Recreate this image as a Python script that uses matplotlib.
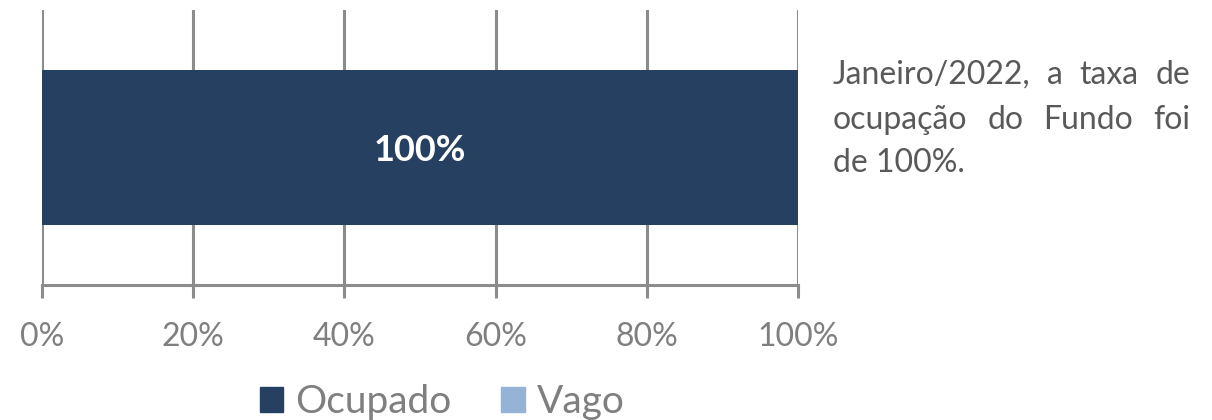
import matplotlib
matplotlib.use("Agg")
import matplotlib.pyplot as plt
from matplotlib.patches import Patch

plt.rcParams['font.family'] = ['Lato', 'DejaVu Sans']

# data
categories = ["Jan/22"]
ocupado = [100]
vago = [0]
series_names = ["Ocupado", "Vago"]
xticks = [0, 20, 40, 60, 80, 100]
xtick_labels = ["0%", "20%", "40%", "60%", "80%", "100%"]
note_lines = [
    "Janeiro/2022, a taxa de",
    "ocupação do Fundo foi",
    "de 100%.",
]

dark = "#264061"
light = "#95b3d7"
grey = "#8c8c8c"
text_grey = "#7f7f7f"

fig = plt.figure(figsize=(12.12, 4.2), dpi=100)
ax = fig.add_axes([42 / 1212, 135 / 420, 756 / 1212, 275 / 420])

ax.barh(categories, ocupado, height=0.5636, color=dark)
ax.barh(categories, vago, left=ocupado, height=0.5636, color=light)

for c, v in zip(categories, ocupado):
    ax.text(v / 2, c, f"{v}%", color="white", fontsize=26, fontweight="bold",
            ha="center", va="center_baseline")

ax.set_xlim(0, 100)
ax.set_ylim(-0.5, 0.5)
ax.set_xticks(xticks)
ax.set_xticklabels(xtick_labels, fontsize=23, color=text_grey)
ax.set_yticks([])
ax.grid(axis="x", color=grey, linewidth=2.2)
ax.set_axisbelow(True)
for s in ["top", "right", "left"]:
    ax.spines[s].set_visible(False)
ax.spines["bottom"].set_color(grey)
ax.spines["bottom"].set_linewidth(2.2)
ax.tick_params(axis="x", length=9, width=2.2, color=grey, pad=18)

handles = [Patch(color=dark), Patch(color=light)]
fig.legend(handles, series_names, loc="center", bbox_to_anchor=(442 / 1212, 1 - 402 / 420),
           ncol=2, frameon=False, fontsize=28, labelcolor=text_grey,
           handlelength=0.6, handleheight=0.6, handletextpad=0.3, columnspacing=1.3)

# justified note text on the right
x0, x1 = 833 / 1212, 1190 / 1212
baselines = [84, 129, 172]
fig.canvas.draw()
r = fig.canvas.get_renderer()
fs = 23
for i, line in enumerate(note_lines):
    y = 1 - baselines[i] / 420
    words = line.split(" ")
    if i == len(note_lines) - 1:
        fig.text(x0, y, line, fontsize=fs, color="#595959", va="baseline")
        continue
    arts = [fig.text(0, y, w, fontsize=fs, color="#595959", va="baseline") for w in words]
    widths = [a.get_window_extent(r).width / 1212 for a in arts]
    gap = (x1 - x0 - sum(widths)) / (len(words) - 1)
    x = x0
    for a, w in zip(arts, widths):
        a.set_x(x)
        x += w + gap

fig.savefig("out.png", dpi=100)
